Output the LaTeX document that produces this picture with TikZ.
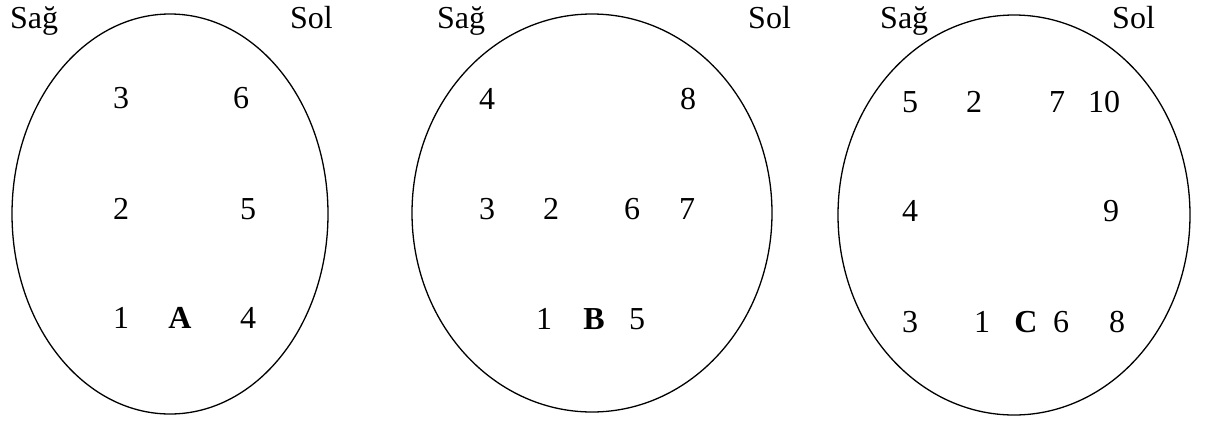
\documentclass[tikz,border=0pt]{standalone}
\usepackage{fontspec}
\setmainfont{Liberation Serif}
\usepackage{tikz}
\usetikzlibrary{positioning}
\tikzset{
  % Ovaller ve etiketler
  oval/.style={line width=1.3pt,black},
  num/.style={font=\fontsize{32}{38}\selectfont,inner sep=0pt},
  harf/.style={num,font=\fontsize{32}{38}\selectfont\bfseries},
  yon/.style={font=\fontsize{32}{38}\selectfont,inner sep=0pt,anchor=base west}
}
\begin{document}
\begin{tikzpicture}[x=1pt,y=-1pt]
    \useasboundingbox (0,0) rectangle (1212,421);
    % A
    \draw[oval] (170,214) ellipse (158 and 200);
    \node[yon] (sagA) at (10,28) {Sağ};
    \node[yon] (solA) at (290,28) {Sol};
    \node[num] (a3) at (121,98) {3};
    \node[num] (a6) at (241,98) {6};
    \node[num] (a2) at (121,209) {2};
    \node[num] (a5) at (248,209) {5};
    \node[num] (a1) at (121,318) {1};
    \node[harf] (A) at (180,318) {A};
    \node[num] (a4) at (248,318) {4};
    % B
    \draw[oval] (592,213) ellipse (180 and 199);
    \node[yon] (sagB) at (437,28) {Sağ};
    \node[yon] (solB) at (748,28) {Sol};
    \node[num] (b4) at (487,99) {4};
    \node[num] (b8) at (688,99) {8};
    \node[num] (b3) at (487,209) {3};
    \node[num] (b2) at (551,209) {2};
    \node[num] (b6) at (632,209) {6};
    \node[num] (b7) at (687,209) {7};
    \node[num] (b1) at (544,319) {1};
    \node[harf] (B) at (594,319) {B};
    \node[num] (b5) at (637,319) {5};
    % C
    \draw[oval] (1014,215) ellipse (176 and 200);
    \node[yon] (sagC) at (880,28) {Sağ};
    \node[yon] (solC) at (1112,28) {Sol};
    \node[num] (c5) at (910,102) {5};
    \node[num] (c2) at (974,102) {2};
    \node[num] (c7) at (1057,102) {7};
    \node[num] (c10) at (1104,102) {10};
    \node[num] (c4) at (910,211) {4};
    \node[num] (c9) at (1111,211) {9};
    \node[num] (c3) at (910,322) {3};
    \node[num] (c1) at (982,322) {1};
    \node[harf] (C) at (1026,322) {C};
    \node[num] (c6) at (1061,322) {6};
    \node[num] (c8) at (1117,322) {8};
\end{tikzpicture}
\end{document}
